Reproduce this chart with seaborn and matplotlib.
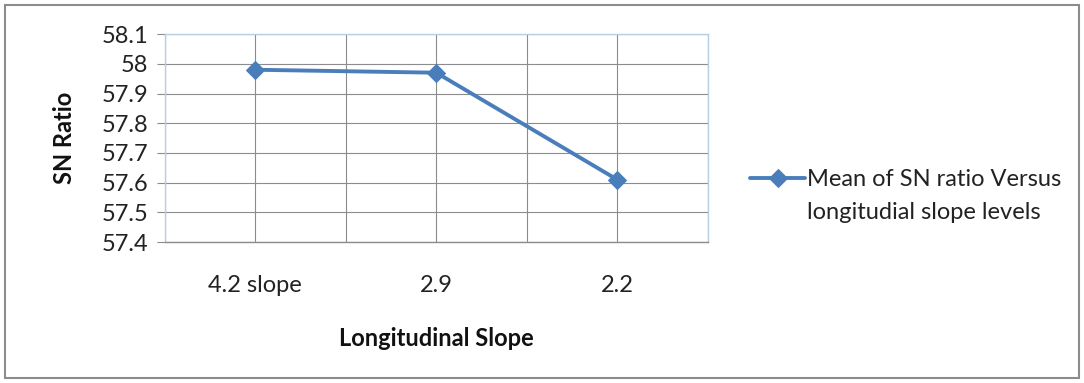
import matplotlib
matplotlib.use("Agg")
import matplotlib.pyplot as plt
from matplotlib.patches import Rectangle
import seaborn as sns
import pandas as pd

levels = ["4.2 slope", "2.9", "2.2"]
sn_means = [57.98, 57.97, 57.61]
y_ticks = [57.4, 57.5, 57.6, 57.7, 57.8, 57.9, 58.0, 58.1]
y_tick_labels = ["57.4", "57.5", "57.6", "57.7", "57.8", "57.9", "58", "58.1"]
series_line1 = "Mean of SN ratio Versus"
series_line2 = "longitudial slope levels"

sns.set_theme(style="white")
plt.rcParams["font.family"] = ["Lato", "DejaVu Sans"]

FS = 17
df = pd.DataFrame({"pos": range(len(levels)), "sn": sn_means})

fig = plt.figure(figsize=(10.84, 3.83), dpi=100)
ax = fig.add_axes([0.152, 0.368, 0.501, 0.543])

line_color = "#4A7EBB"
sns.lineplot(data=df, x="pos", y="sn", ax=ax, color=line_color, linewidth=2.8,
             marker="D", markersize=9.5, markeredgecolor=line_color,
             label=series_line1)

ax.set_xlim(-0.5, len(levels) - 0.5)
ax.set_ylim(57.4, 58.1)
ax.set_yticks(y_ticks)
ax.set_yticklabels(y_tick_labels)
ax.set_xticks(range(len(levels)))
ax.set_xticklabels(levels)
ax.set_xticks([i - 0.5 for i in range(len(levels) + 1)], minor=True)

grid_kw = dict(color="#8C8C8C", linewidth=0.8)
ax.grid(True, which="major", axis="both", **grid_kw)
ax.grid(True, which="minor", axis="x", **grid_kw)
ax.set_axisbelow(True)

ax.tick_params(axis="x", which="major", length=0, pad=24, labelsize=FS, colors="#222222")
ax.tick_params(axis="x", which="minor", length=6, width=0.8, color="#8C8C8C", direction="out")
ax.tick_params(axis="y", which="major", length=6, width=0.8, color="#8C8C8C",
               direction="out", pad=6, labelsize=FS, colors="#222222", left=True)

for side in ["top", "left", "right"]:
    ax.spines[side].set_color("#B9CDE5")
    ax.spines[side].set_linewidth(1.0)
ax.spines["bottom"].set_color("#8C8C8C")
ax.spines["bottom"].set_linewidth(1.0)

ax.set_xlabel("Longitudinal Slope", fontsize=FS, fontweight="bold", labelpad=22, color="#111111")
ax.set_ylabel("SN Ratio", fontsize=FS, fontweight="bold", labelpad=18, color="#111111")

leg = ax.legend(loc="center left", bbox_to_anchor=(1.06, 0.30), frameon=False,
                fontsize=FS, handlelength=2.35, handletextpad=0.05, borderaxespad=0)
leg.get_texts()[0].set_color("#222222")

# second line of the series name, placed directly under the legend label
fig.canvas.draw()
bb = leg.get_texts()[0].get_window_extent(fig.canvas.get_renderer())
fig.text(bb.x0 / fig.bbox.width, (bb.y0 - 33 + bb.height / 2) / fig.bbox.height,
         series_line2, fontsize=FS, color="#222222", va="center", ha="left")

fig.patches.append(Rectangle((0.005, 0.013), 0.99, 0.975, transform=fig.transFigure,
                             fill=False, edgecolor="#8C8C8C", linewidth=1.5))

fig.savefig("out.png", dpi=100, facecolor="white")
